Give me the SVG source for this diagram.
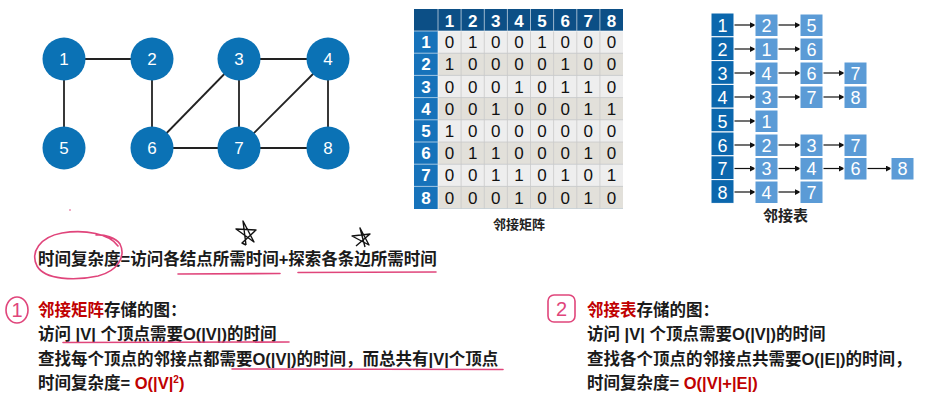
<svg xmlns="http://www.w3.org/2000/svg" width="928" height="410" viewBox="0 0 928 410">
<defs>
<style>
.bg{fill:#ffffff}
.edge{stroke:#222;stroke-width:1.8;fill:none}
.gnode{fill:#0b72b5}
.gtxt{fill:#fff;font-family:"Liberation Sans",Arial,sans-serif;font-size:17px;text-anchor:middle}
.mh{fill:#0c4f86}
.mr{fill:#1672ba}
.odd{fill:#eeeeee}
.even{fill:#e2e0da}
.mht{fill:#fff;font-family:"Liberation Sans",Arial,sans-serif;font-size:17px;font-weight:bold;text-anchor:middle}
.mc{fill:#111;font-family:"Liberation Sans",Arial,sans-serif;font-size:17px;text-anchor:middle}
.grid{stroke:#ffffff;stroke-width:1;opacity:0.6}
.cgrid{stroke:#c9c9c9;stroke-width:0.8}
.head{fill:#0b67ad;stroke:#fff;stroke-width:1}
.item{fill:#5b9bd6;stroke:#fff;stroke-width:1}
.lt{fill:#fff;font-family:"Liberation Sans",Arial,sans-serif;font-size:18px;text-anchor:middle}
.arr{stroke:#111;stroke-width:1.2;fill:none;marker-end:url(#ah)}
.cap{fill:#222;font-family:"Noto Sans CJK SC","Noto Sans",sans-serif;font-weight:bold;text-anchor:middle}
.txt{fill:#1a1a1a;font-family:"Liberation Sans","Noto Sans CJK SC",sans-serif;font-size:16.5px;font-weight:bold}
.red{fill:#c00000}
.pink{stroke:#e0457b;stroke-width:1.6;fill:none;stroke-linecap:round;stroke-linejoin:round}
.pinkt{fill:#e0457b;font-family:"Liberation Sans",sans-serif;font-size:20px;text-anchor:middle}
.star{stroke:#111;stroke-width:1.4;fill:none;stroke-linejoin:round}
</style>
<marker id="ah" viewBox="0 0 8 8" refX="7" refY="4" markerWidth="6" markerHeight="6" orient="auto" markerUnits="userSpaceOnUse">
<path d="M0,0 L8,4 L0,8 z" fill="#111"/>
</marker>
</defs>
<rect class="bg" x="0" y="0" width="928" height="410"/>

<!-- Graph -->
<g id="graph-edges">
<line class="edge" x1="64" y1="59" x2="152" y2="59"/>
<line class="edge" x1="64" y1="59" x2="64" y2="148"/>
<line class="edge" x1="152" y1="59" x2="152" y2="148"/>
<line class="edge" x1="239" y1="59" x2="328" y2="59"/>
<line class="edge" x1="239" y1="59" x2="152" y2="148"/>
<line class="edge" x1="239" y1="59" x2="239" y2="148"/>
<line class="edge" x1="328" y1="59" x2="239" y2="148"/>
<line class="edge" x1="328" y1="59" x2="328" y2="148"/>
<line class="edge" x1="152" y1="148" x2="239" y2="148"/>
<line class="edge" x1="239" y1="148" x2="328" y2="148"/>
</g>
<g id="n1"><circle class="gnode" cx="64" cy="59" r="21.5"/><text class="gtxt" x="64" y="65">1</text></g>
<g id="n2"><circle class="gnode" cx="152" cy="59" r="21.5"/><text class="gtxt" x="152" y="65">2</text></g>
<g id="n3"><circle class="gnode" cx="239" cy="59" r="21.5"/><text class="gtxt" x="239" y="65">3</text></g>
<g id="n4"><circle class="gnode" cx="328" cy="59" r="21.5"/><text class="gtxt" x="328" y="65">4</text></g>
<g id="n5"><circle class="gnode" cx="64" cy="148" r="21.5"/><text class="gtxt" x="64" y="154">5</text></g>
<g id="n6"><circle class="gnode" cx="152" cy="148" r="21.5"/><text class="gtxt" x="152" y="154">6</text></g>
<g id="n7"><circle class="gnode" cx="239" cy="148" r="21.5"/><text class="gtxt" x="239" y="154">7</text></g>
<g id="n8"><circle class="gnode" cx="328" cy="148" r="21.5"/><text class="gtxt" x="328" y="154">8</text></g>

<!-- Adjacency matrix -->
<g id="matrix">
<rect x="414" y="9" width="209" height="200" fill="#a9c3da"/>
<rect class="mh" x="414" y="9" width="209" height="22"/>
<rect class="mr" x="414" y="31" width="24" height="178"/>
<rect class="odd" x="438" y="31" width="185" height="22.2"/>
<rect class="even" x="438" y="53.2" width="185" height="22.2"/>
<rect class="odd" x="438" y="75.4" width="185" height="22.2"/>
<rect class="even" x="438" y="97.6" width="185" height="22.2"/>
<rect class="odd" x="438" y="119.8" width="185" height="22.2"/>
<rect class="even" x="438" y="142" width="185" height="22.2"/>
<rect class="odd" x="438" y="164.2" width="185" height="22.2"/>
<rect class="even" x="438" y="186.4" width="185" height="22.2"/>
<g class="cgrid">
<line x1="438" y1="53.2" x2="623" y2="53.2"/><line x1="438" y1="75.4" x2="623" y2="75.4"/>
<line x1="438" y1="97.6" x2="623" y2="97.6"/><line x1="438" y1="119.8" x2="623" y2="119.8"/>
<line x1="438" y1="142" x2="623" y2="142"/><line x1="438" y1="164.2" x2="623" y2="164.2"/>
<line x1="438" y1="186.4" x2="623" y2="186.4"/>
<line x1="461.1" y1="31" x2="461.1" y2="208.6"/><line x1="484.3" y1="31" x2="484.3" y2="208.6"/>
<line x1="507.4" y1="31" x2="507.4" y2="208.6"/><line x1="530.5" y1="31" x2="530.5" y2="208.6"/>
<line x1="553.6" y1="31" x2="553.6" y2="208.6"/><line x1="576.8" y1="31" x2="576.8" y2="208.6"/>
<line x1="599.9" y1="31" x2="599.9" y2="208.6"/>
</g>
<g class="grid">
<line x1="438" y1="9" x2="438" y2="209"/>
<line x1="414" y1="31" x2="623" y2="31"/>
<line x1="461.1" y1="9" x2="461.1" y2="31"/><line x1="484.3" y1="9" x2="484.3" y2="31"/>
<line x1="507.4" y1="9" x2="507.4" y2="31"/><line x1="530.5" y1="9" x2="530.5" y2="31"/>
<line x1="553.6" y1="9" x2="553.6" y2="31"/><line x1="576.8" y1="9" x2="576.8" y2="31"/>
<line x1="599.9" y1="9" x2="599.9" y2="31"/>
<line x1="414" y1="53.2" x2="438" y2="53.2"/><line x1="414" y1="75.4" x2="438" y2="75.4"/>
<line x1="414" y1="97.6" x2="438" y2="97.6"/><line x1="414" y1="119.8" x2="438" y2="119.8"/>
<line x1="414" y1="142" x2="438" y2="142"/><line x1="414" y1="164.2" x2="438" y2="164.2"/>
<line x1="414" y1="186.4" x2="438" y2="186.4"/>
</g>
<g class="mht">
<text x="449.6" y="26.5">1</text><text x="472.7" y="26.5">2</text><text x="495.8" y="26.5">3</text><text x="519" y="26.5">4</text>
<text x="542.1" y="26.5">5</text><text x="565.2" y="26.5">6</text><text x="588.3" y="26.5">7</text><text x="611.4" y="26.5">8</text>
<text x="426" y="48.2">1</text><text x="426" y="70.4">2</text><text x="426" y="92.6">3</text><text x="426" y="114.8">4</text>
<text x="426" y="137">5</text><text x="426" y="159.2">6</text><text x="426" y="181.4">7</text><text x="426" y="203.6">8</text>
</g>
<g class="mc">
<text y="48.2"><tspan x="449.6">0</tspan><tspan x="472.7">1</tspan><tspan x="495.8">0</tspan><tspan x="519">0</tspan><tspan x="542.1">1</tspan><tspan x="565.2">0</tspan><tspan x="588.3">0</tspan><tspan x="611.4">0</tspan></text>
<text y="70.4"><tspan x="449.6">1</tspan><tspan x="472.7">0</tspan><tspan x="495.8">0</tspan><tspan x="519">0</tspan><tspan x="542.1">0</tspan><tspan x="565.2">1</tspan><tspan x="588.3">0</tspan><tspan x="611.4">0</tspan></text>
<text y="92.6"><tspan x="449.6">0</tspan><tspan x="472.7">0</tspan><tspan x="495.8">0</tspan><tspan x="519">1</tspan><tspan x="542.1">0</tspan><tspan x="565.2">1</tspan><tspan x="588.3">1</tspan><tspan x="611.4">0</tspan></text>
<text y="114.8"><tspan x="449.6">0</tspan><tspan x="472.7">0</tspan><tspan x="495.8">1</tspan><tspan x="519">0</tspan><tspan x="542.1">0</tspan><tspan x="565.2">0</tspan><tspan x="588.3">1</tspan><tspan x="611.4">1</tspan></text>
<text y="137"><tspan x="449.6">1</tspan><tspan x="472.7">0</tspan><tspan x="495.8">0</tspan><tspan x="519">0</tspan><tspan x="542.1">0</tspan><tspan x="565.2">0</tspan><tspan x="588.3">0</tspan><tspan x="611.4">0</tspan></text>
<text y="159.2"><tspan x="449.6">0</tspan><tspan x="472.7">1</tspan><tspan x="495.8">1</tspan><tspan x="519">0</tspan><tspan x="542.1">0</tspan><tspan x="565.2">0</tspan><tspan x="588.3">1</tspan><tspan x="611.4">0</tspan></text>
<text y="181.4"><tspan x="449.6">0</tspan><tspan x="472.7">0</tspan><tspan x="495.8">1</tspan><tspan x="519">1</tspan><tspan x="542.1">0</tspan><tspan x="565.2">1</tspan><tspan x="588.3">0</tspan><tspan x="611.4">1</tspan></text>
<text y="203.6"><tspan x="449.6">0</tspan><tspan x="472.7">0</tspan><tspan x="495.8">0</tspan><tspan x="519">1</tspan><tspan x="542.1">0</tspan><tspan x="565.2">0</tspan><tspan x="588.3">1</tspan><tspan x="611.4">0</tspan></text>
</g>
<text class="cap" x="519" y="229" font-size="13">邻接矩阵</text>
</g>

<!-- Adjacency list -->
<g id="adj-connectors">
<line class="arr" x1="734" y1="25" x2="755" y2="25"/><line class="arr" x1="778" y1="25" x2="800" y2="25"/>
<line class="arr" x1="734" y1="49" x2="755" y2="49"/><line class="arr" x1="778" y1="49" x2="800" y2="49"/>
<line class="arr" x1="734" y1="73" x2="755" y2="73"/><line class="arr" x1="778" y1="73" x2="800" y2="73"/><line class="arr" x1="823" y1="73" x2="844" y2="73"/>
<line class="arr" x1="734" y1="97" x2="755" y2="97"/><line class="arr" x1="778" y1="97" x2="800" y2="97"/><line class="arr" x1="823" y1="97" x2="844" y2="97"/>
<line class="arr" x1="734" y1="121" x2="755" y2="121"/>
<line class="arr" x1="734" y1="145" x2="755" y2="145"/><line class="arr" x1="778" y1="145" x2="800" y2="145"/><line class="arr" x1="823" y1="145" x2="844" y2="145"/>
<line class="arr" x1="734" y1="168.5" x2="755" y2="168.5"/><line class="arr" x1="778" y1="168.5" x2="800" y2="168.5"/><line class="arr" x1="823" y1="168.5" x2="844" y2="168.5"/><line class="arr" x1="867" y1="168.5" x2="891" y2="168.5"/>
<line class="arr" x1="734" y1="192" x2="755" y2="192"/><line class="arr" x1="778" y1="192" x2="800" y2="192"/>
</g>
<g id="head-col">
<rect class="head" x="711" y="13" width="23" height="23.8"/><text class="lt" x="722.5" y="31.5">1</text>
<rect class="head" x="711" y="36.8" width="23" height="23.8"/><text class="lt" x="722.5" y="55.5">2</text>
<rect class="head" x="711" y="60.6" width="23" height="23.8"/><text class="lt" x="722.5" y="79.5">3</text>
<rect class="head" x="711" y="84.4" width="23" height="23.8"/><text class="lt" x="722.5" y="103.5">4</text>
<rect class="head" x="711" y="108.2" width="23" height="23.8"/><text class="lt" x="722.5" y="127.5">5</text>
<rect class="head" x="711" y="132" width="23" height="23.8"/><text class="lt" x="722.5" y="151.5">6</text>
<rect class="head" x="711" y="155.8" width="23" height="23.8"/><text class="lt" x="722.5" y="175">7</text>
<rect class="head" x="711" y="179.6" width="23" height="23.8"/><text class="lt" x="722.5" y="198.5">8</text>
</g>
<g id="list-1"><rect class="item" x="755" y="14" width="23" height="22.5"/><text class="lt" x="766.5" y="31.5">2</text><rect class="item" x="800" y="14" width="23" height="22.5"/><text class="lt" x="811.5" y="31.5">5</text></g>
<g id="list-2"><rect class="item" x="755" y="38" width="23" height="22.5"/><text class="lt" x="766.5" y="55.5">1</text><rect class="item" x="800" y="38" width="23" height="22.5"/><text class="lt" x="811.5" y="55.5">6</text></g>
<g id="list-3"><rect class="item" x="755" y="62" width="23" height="22.5"/><text class="lt" x="766.5" y="79.5">4</text><rect class="item" x="800" y="62" width="23" height="22.5"/><text class="lt" x="811.5" y="79.5">6</text><rect class="item" x="844" y="62" width="23" height="22.5"/><text class="lt" x="855.5" y="79.5">7</text></g>
<g id="list-4"><rect class="item" x="755" y="86" width="23" height="22.5"/><text class="lt" x="766.5" y="103.5">3</text><rect class="item" x="800" y="86" width="23" height="22.5"/><text class="lt" x="811.5" y="103.5">7</text><rect class="item" x="844" y="86" width="23" height="22.5"/><text class="lt" x="855.5" y="103.5">8</text></g>
<g id="list-5"><rect class="item" x="755" y="110" width="23" height="22.5"/><text class="lt" x="766.5" y="127.5">1</text></g>
<g id="list-6"><rect class="item" x="755" y="134" width="23" height="22.5"/><text class="lt" x="766.5" y="151.5">2</text><rect class="item" x="800" y="134" width="23" height="22.5"/><text class="lt" x="811.5" y="151.5">3</text><rect class="item" x="844" y="134" width="23" height="22.5"/><text class="lt" x="855.5" y="151.5">7</text></g>
<g id="list-7"><rect class="item" x="755" y="157.5" width="23" height="22.5"/><text class="lt" x="766.5" y="175">3</text><rect class="item" x="800" y="157.5" width="23" height="22.5"/><text class="lt" x="811.5" y="175">4</text><rect class="item" x="844" y="157.5" width="23" height="22.5"/><text class="lt" x="855.5" y="175">6</text><rect class="item" x="891" y="157.5" width="23" height="22.5"/><text class="lt" x="902.5" y="175">8</text></g>
<g id="list-8"><rect class="item" x="755" y="181" width="23" height="22.5"/><text class="lt" x="766.5" y="198.5">4</text><rect class="item" x="800" y="181" width="23" height="22.5"/><text class="lt" x="811.5" y="198.5">7</text></g>
<text class="cap" x="785.5" y="221" font-size="15">邻接表</text>

<!-- Formula line -->
<g id="formula">
<text class="txt" x="38" y="265">时间复杂度=访问各结点所需时间+探索各条边所需时间</text>
<path class="pink" d="M118,246 C110,234 85,229 62,233 C40,237 30,252 37,266 C45,280 75,281 98,276 C118,271 126,256 120,244 C116,238 104,234 96,235"/>
<path class="pink" d="M178,274 L280,273.5"/>
<path class="pink" d="M298,272.5 L436,272"/>
<circle cx="70" cy="210" r="0.8" fill="#e0457b"/>
<path class="star" d="M246,245 L243,221 L254,242 L236,229 L256,230 L242,243 L246,245"/>
<path class="star" d="M365,247 L360,228 L369,245 L352,236 L370,234 L356,246"/>
</g>

<!-- Section 1 -->
<g id="sec1">
<ellipse class="pink" cx="17" cy="310" rx="11" ry="13"/>
<text class="pinkt" x="17" y="317">1</text>
<text class="txt" x="38" y="316"><tspan class="red">邻接矩阵</tspan>存储的图：</text>
<text class="txt" x="38" y="340">访问 |V| 个顶点需要O(|V|)的时间</text>
<text class="txt" x="38" y="365">查找每个顶点的邻接点都需要O(|V|)的时间，而总共有|V|个顶点</text>
<text class="txt" x="38" y="389">时间复杂度= <tspan class="red">O(|V|<tspan font-size="10" dy="-6">2</tspan><tspan dy="6">)</tspan></tspan></text>
<path class="pink" d="M63,342.5 L289,342"/>
<path class="pink" d="M232,369 L503,369.5"/>
</g>

<!-- Section 2 -->
<g id="sec2">
<rect class="pink" x="548" y="295" width="27" height="27" rx="6"/>
<text class="pinkt" x="561.5" y="316">2</text>
<text class="txt" x="587" y="316"><tspan class="red">邻接表</tspan>存储的图：</text>
<text class="txt" x="587" y="340">访问 |V| 个顶点需要O(|V|)的时间</text>
<text class="txt" x="587" y="365">查找各个顶点的邻接点共需要O(|E|)的时间，</text>
<text class="txt" x="587" y="389">时间复杂度= <tspan class="red">O(|V|+|E|)</tspan></text>
</g>
</svg>
